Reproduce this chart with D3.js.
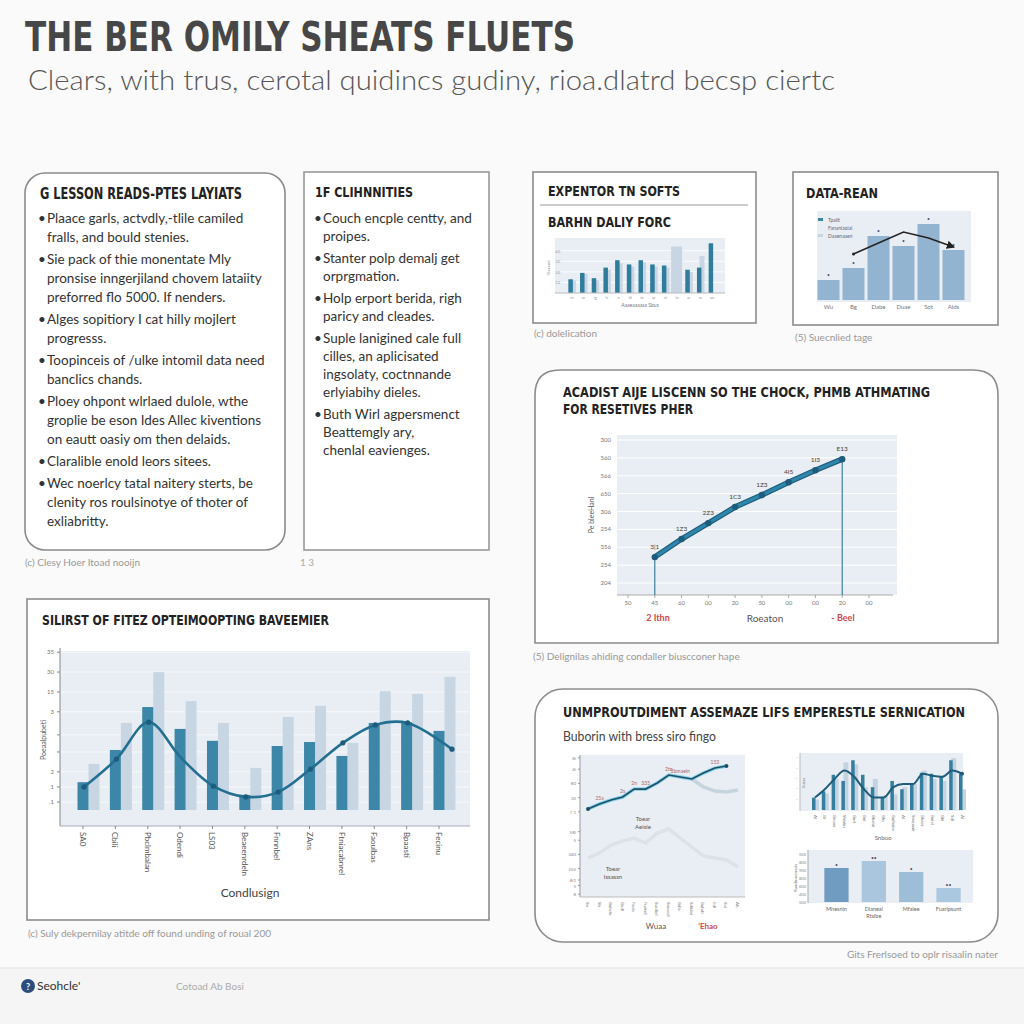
<!DOCTYPE html>
<html><head><meta charset="utf-8">
<script src="https://cdn.jsdelivr.net/npm/d3@7"></script>
<style>html,body{margin:0;padding:0;background:#fafafa;}svg{display:block;}</style>
</head><body>
<script>
// ---------------- DATA ----------------
const mainTitle = "THE BER OMILY SHEATS FLUETS";
const mainSubtitle = "Clears, with trus, cerotal quidincs gudiny, rioa.dlatrd becsp ciertc";

const lessonTitle = "G LESSON READS-PTES LAYIATS";
const lessonBullets = [
  ["Plaace garls, actvdly,-tlile camiled", "fralls, and bould stenies."],
  ["Sie pack of thie monentate Mly", "pronsise inngerjiland chovem lataiity", "preforred flo 5000. If nenders."],
  ["Alges sopitiory I cat hilly mojlert", "progresss."],
  ["Toopinceis of /ulke intomil data need", "banclics chands."],
  ["Ploey ohpont wlrlaed dulole, wthe", "groplie be eson Ides Allec kiventions", "on eautt oasiy om then delaids."],
  ["Claralible enold leors sitees."],
  ["Wec noerlcy tatal naitery sterts, be", "clenity ros roulsinotye of thoter of", "exliabritty."]
];
const lessonCaption = "(c) Clesy Hoer Itoad nooijn";

const commTitle = "1F CLIHNNITIES";
const commBullets = [
  ["Couch encple centty, and", "proipes."],
  ["Stanter polp demalj get", "orprgmation."],
  ["Holp erport berida, righ", "paricy and cleades."],
  ["Suple lanigined cale full", "cilles, an aplicisated", "ingsolaty, coctnnande", "erlyiabihy dieles."],
  ["Buth Wirl agpersmenct", "Beattemgly ary,", "chenlal eavienges."]
];
const commCaption = "1 3";

// chart 1 : EXPENTOR TN SOFTS
const barnTitle1 = "EXPENTOR TN SOFTS";
const barnTitle2 = "BARHN DALIY FORC";
const barnCats = ["ni","ar","ig","ls","n","bl","m","ar","ni","lo","ar","ar","an"];
const barnDark  = [13, 19, 14, 24, 31, 27, 31, 27, 26, 0, 22, 24, 47];
const barnLight = [12, 18, 12, 22, 28, 25, 29, 25, 24, 44, 20, 35, 0];
const barnYTicks = [10, 20, 30, 40];
const barnXTitle = "Aaaeaaaaaa Sbus";
const barnCaption = "(c) dolelication";

// chart 2 : DATA-REAN
const reanTitle = "DATA-REAN";
const reanCats = ["Wu", "Bg", "Dabe", "Duae", "Sot", "Alds"];
const reanValues = [20, 32, 64, 54, 76, 50];
const reanTrendCats = ["Bg", "Dabe", "Duae", "Sot", "Alds"];
const reanTrend = [46, 57, 68, 62, 53];
const reanLegend = ["Tpaiit", "Fananlaoial", "Daaenaaen"];
const reanCaption = "(5) Suecnlied tage";

// line panel
const lineTitle1 = "ACADIST AIJE LISCENN SO THE CHOCK, PHMB ATHMATING";
const lineTitle2 = "FOR RESETIVES PHER";
const lineXLabels = ["50", "45", "60", "00", "20", "50", "00", "00", "20", "00"];
const lineCatIdx = [1, 2, 3, 4, 5, 6, 7, 8];
const lineValues = [345, 446, 535, 625, 692, 764, 831, 893];
const linePointLabels = ["3|1", "1Z3", "2Z3", "1C3", "1Z3", "4I5", "1I3", "E13"];
const lineYTicks = [1000, 900, 800, 700, 600, 500, 400, 300, 200];
const lineYTickLabels = ["300", "560", "566", "650", "306", "254", "356", "254", "204"];
const lineYTitle = "Pe bleeHanl";
const lineXTitle = "Roeaton";
const lineMarkLeft = "2 Ithn";
const lineMarkRight = "- Beel";
const lineCaption = "(5) Delignilas ahiding condaller biuscconer hape";

// bottom-left chart
const blTitle = "SILIRST OF FITEZ OPTEIMOOPTING BAVEEMIER";
const blCats = ["SA0", "Cbili", "Pbclmbalan", "Odendi", "LS03", "Beaeenrdeln", "Fnnnbel", "ZAns", "Ftniacabnrel", "Faoulbas", "Bpaasti", "Fecinu"];
const blDark  = [7.0, 15.1, 25.9, 20.4, 17.4, 3.8, 16.1, 17.1, 13.6, 21.9, 22.1, 19.9];
const blLight = [11.6, 21.9, 34.7, 27.4, 21.9, 10.6, 23.4, 26.2, 16.9, 29.9, 29.2, 33.5];
const blCurve = [5.8, 12.8, 22.1, 13.1, 6.0, 3.3, 4.5, 10.3, 16.9, 21.4, 21.9, 15.3];
const blYTicks = [39.7, 34.7, 29.7, 24.7, 18.9, 14.6, 9.6, 5.8, 2.0];
const blYTickLabels = ["35", "30", "15", "3", "", "", "2", "1", ".1"];
const blYTitle = "Poeaalpubeti";
const blXTitle = "Condlusign";
const blCaption = "(c) Suly dekpernilay atitde off found unding of roual 200";

// bottom-right panel
const brTitle = "UNMPROUTDIMENT ASSEMAZE LIFS EMPERESTLE SERNICATION";
const brSubtitle = "Buborin with bress siro fingo";
const brCats = ["Sn", "Sh", "Bulieln", "Bodl", "Faols", "Fudnd", "Sutdiel", "Snuosd", "Bdle", "Sdlidal", "Buhdl", "Edl", "Sol", "Ah"];
const brDark = [62, 65.5, 68.3, 70.4, 76, 76, 80.3, 85.9, 84.5, 83.1, 87.3, 90.8, 92.3, null];
const brFade = [null, null, null, null, null, null, null, null, null, 83.1, 77.5, 74.6, 73.9, 75.4];
const brLower = [27.5, 31, 36.6, 39.4, 41.5, 38, 45, 47.9, 41.5, 35.2, 28.9, 27.5, 26.1, 21.1];
const brPointLabels = ["", "25a", "", "2s", "2n", "335", "", "2to", "2bmaeln", "", "", "153", "", ""];
const brYTicks = [98, 90, 80, 70, 60, 46, 40, 30, 20, 12, 8, 2];
const brYTickLabels = ["8i", "4i", "80", "3S", "7.1", "5Ri", "5", "340", "2S5", "8i1", "5", "8"];
const brNoteUpper = ["Toear", "Aeisle"];
const brNoteLower = ["Toear", "Issassn"];
const brXLeft = "Wuaa";
const brXRight = "'Ehao";

const brBarCats = ["a","b","c","d","e","f","g","h","i","j","k","l","m","n","o","p"];
const brBarDark  = [12, 18, 34, 28, 48, 34, 22, 12, 28, 20, 25, 36, 35, 32, 48, 35];
const brBarLight = [10, 16, 30, 46, 44, 22, 30, 14, 15, 22, 25, 38, 30, 28, 50, 20];
const brBarLine  = [12, 20, 30, 38, 32, 20, 12, 12, 22, 25, 25, 35, 33, 32, 38, 35];
const brBarXLabels = ["Al","Bl","Bmaer","Shlalin","Bnd","Bnl","Bhalal","Bhs","Bulhaler","Al","Sneuaalr","Bhaer","Bnlel","Bhl","Sdl","Al"];
const brBarXTitle = "Snbuo";

const brSmallCats = ["Mhesnin", "Dlaneal", "Mfalee", "Fuarlpsunt"];
const brSmallValues = [34, 41, 30, 14];
const brSmallTicks = [0, 8, 16, 24, 32, 40, 48];
const brSmallTickLabels = ["500", "400", "600", "800", "900", "800", "500"];
const brSmallSub = "Rtslbe";
const brCaption = "Gits Frerlsoed to oplr risaalin nater";

const footerBrand = "Seohcle'";
const footerText = "Cotoad Ab Bosi";

// ---------------- DRAWING ----------------
const FF = "Lato, 'Open Sans', sans-serif";
const FT = "'Liberation Sans Narrow', 'DejaVu Sans Condensed', 'Liberation Sans', sans-serif";
const DARK = "#3c86a7", LIGHT = "#c7d6e2", PLOT = "#e9eef4", LINE = "#236f92";

const svg = d3.select("body").append("svg").attr("width", 1024).attr("height", 1024);
svg.append("rect").attr("width", 1024).attr("height", 1024).attr("fill", "#fafafa");

function T(g, x, y, s, o = {}) {
  const t = g.append("text").attr("x", x).attr("y", y).text(s)
    .attr("font-family", o.ff || FF).attr("font-size", o.fs || 13)
    .attr("fill", o.c || "#333").attr("font-weight", o.fw || "normal")
    .attr("text-anchor", o.a || "start");
  if (o.w) t.attr("textLength", o.w).attr("lengthAdjust", "spacingAndGlyphs");
  if (o.max) {
    const L = t.node().getComputedTextLength();
    if (L > o.max) t.attr("textLength", o.max).attr("lengthAdjust", "spacingAndGlyphs");
  }
  if (o.rot) t.attr("transform", `rotate(${o.rot},${x},${y})`);
  return t;
}
function box(x, y, w, h, rx, stroke) {
  svg.append("rect").attr("x", x).attr("y", y).attr("width", w).attr("height", h)
    .attr("rx", rx || 0).attr("fill", "#fff").attr("stroke", stroke || "#8c8c8c").attr("stroke-width", 1.6);
}
function bullets(x, y0, items, step, gap, maxW, fs) {
  let y = y0;
  items.forEach(lines => {
    T(svg, x, y, "•", { fs, c: "#333" });
    lines.forEach(ln => { T(svg, x + 9, y, ln, { fs, max: maxW, c: "#333" }); y += step; });
    y += gap;
  });
}

// header
T(svg, 25, 51, mainTitle, { ff: FT, fs: 41, fw: "bold", c: "#474747", w: 550 });
T(svg, 28, 90, mainSubtitle, { ff: FF, fs: 27, fw: 300, c: "#555", w: 807 });

// ---- left text panel
box(25, 173, 260, 377, 20, "#8a8a8a");
T(svg, 40, 199, lessonTitle, { ff: FT, fs: 15, fw: "bold", c: "#222", w: 202 });
bullets(38, 223, lessonBullets, 19, 3, 228, 13.5);
T(svg, 25, 566, lessonCaption, { fs: 10, c: "#999" });

// ---- middle text panel
box(304, 172, 185, 378, 0, "#999");
T(svg, 315, 197, commTitle, { ff: FT, fs: 14, fw: "bold", c: "#222", w: 98 });
bullets(314, 223, commBullets, 18, 4, 158, 13.5);
T(svg, 300, 566, commCaption, { fs: 10, c: "#aaa" });

// ---- chart 1
box(533, 172, 223, 151, 0, "#8c8c8c");
T(svg, 548, 196, barnTitle1, { ff: FT, fs: 14, fw: "bold", c: "#222", w: 132 });
svg.append("line").attr("x1", 540).attr("x2", 748).attr("y1", 205).attr("y2", 205).attr("stroke", "#999").attr("stroke-width", 1.2);
T(svg, 548, 227, barnTitle2, { ff: FT, fs: 14, fw: "bold", c: "#222", w: 123 });
{
  const g = svg.append("g");
  g.append("rect").attr("x", 555).attr("y", 238).attr("width", 170).attr("height", 55).attr("fill", PLOT);
  const x = d3.scaleBand().domain(barnCats.map((d, i) => i)).range([566, 718]);
  const y = d3.scaleLinear().domain([0, 52]).range([293, 238]);
  barnYTicks.forEach(v => {
    g.append("line").attr("x1", 555).attr("x2", 725).attr("y1", y(v)).attr("y2", y(v)).attr("stroke", "#fff").attr("stroke-width", 0.8);
    T(g, 560, y(v) + 2, String(v), { fs: 4, c: "#999", a: "end" });
  });
  barnCats.forEach((c, i) => {
    const cx = x(i) + x.bandwidth() / 2;
    if (barnLight[i] > 0) g.append("rect").attr("x", cx - 1).attr("y", y(barnLight[i])).attr("width", i === 9 ? 11 : 5).attr("height", 293 - y(barnLight[i])).attr("fill", LIGHT).attr("transform", i === 9 ? "translate(-5,0)" : null);
    if (barnDark[i] > 0) g.append("rect").attr("x", cx - 3.5).attr("y", y(barnDark[i])).attr("width", 4.5).attr("height", 293 - y(barnDark[i])).attr("fill", "#2f7c9d");
    T(g, cx, 299, c, { fs: 4, c: "#999", a: "middle" });
  });
  g.append("line").attr("x1", 555).attr("x2", 725).attr("y1", 293).attr("y2", 293).attr("stroke", "#bbb");
  T(g, 550, 268, "Vlaaaanl", { fs: 4, c: "#999", a: "middle", rot: -90 });
  T(g, 640, 307, barnXTitle, { fs: 5, c: "#777", a: "middle" });
}
T(svg, 534, 337, barnCaption, { fs: 10, c: "#999" });

// ---- chart 2
box(793, 172, 205, 153, 0, "#8c8c8c");
T(svg, 806, 198, reanTitle, { ff: FT, fs: 14, fw: "bold", c: "#222", w: 72 });
{
  const g = svg.append("g");
  g.append("rect").attr("x", 817).attr("y", 211).attr("width", 154).attr("height", 91).attr("fill", PLOT);
  const x = d3.scaleBand().domain(reanCats).range([816, 966]).paddingInner(0.12).paddingOuter(0.06);
  const y = d3.scaleLinear().domain([0, 89]).range([300, 211]);
  g.selectAll(".rb").data(reanValues).join("rect")
    .attr("x", (d, i) => x(reanCats[i])).attr("y", d => y(d))
    .attr("width", x.bandwidth()).attr("height", d => 300 - y(d)).attr("fill", "#93b4d0");
  reanValues.forEach((v, i) => T(g, x(reanCats[i]) + x.bandwidth() / 2, y(v) - 3, "•", { fs: 5, c: "#557", a: "middle" }));
  reanCats.forEach(c => T(g, x(c) + x.bandwidth() / 2, 309, c, { fs: 6, c: "#777", a: "middle" }));
  svg.append("defs").append("marker").attr("id", "arr").attr("viewBox", "0 0 10 10").attr("refX", 8).attr("refY", 5)
    .attr("markerWidth", 6).attr("markerHeight", 6).attr("orient", "auto")
    .append("path").attr("d", "M0,0L10,5L0,10z").attr("fill", "#222");
  const ln = d3.line().x((d, i) => x(reanTrendCats[i]) + x.bandwidth() / 2).y(d => y(d));
  g.append("path").attr("d", ln(reanTrend)).attr("fill", "none").attr("stroke", "#222").attr("stroke-width", 1.4).attr("marker-end", "url(#arr)");
  g.append("circle").attr("cx", x(reanTrendCats[0]) + x.bandwidth() / 2).attr("cy", y(reanTrend[0])).attr("r", 1.5).attr("fill", "#222");
  const lc = [DARK, "#b9cbdb", "#c9d6e2"];
  reanLegend.forEach((s, i) => {
    if (i !== 1) g.append("rect").attr("x", 818).attr("y", 218 + i * 8).attr("width", 5).attr("height", 3).attr("fill", lc[i]);
    T(g, 828, 222 + i * 8, s, { fs: 5, c: "#667" });
  });
}
T(svg, 795, 341, reanCaption, { fs: 10, c: "#999" });

// ---- line panel
svg.append("path").attr("d", "M535,643 L535,395 Q535,370 560,370 L973,370 Q998,370 998,395 L998,643 Z")
  .attr("fill", "#fff").attr("stroke", "#8c8c8c").attr("stroke-width", 1.6);
T(svg, 563, 397, lineTitle1, { ff: FT, fs: 14, fw: "bold", c: "#222", w: 367 });
T(svg, 563, 414, lineTitle2, { ff: FT, fs: 14, fw: "bold", c: "#222", w: 130 });
{
  const g = svg.append("g");
  g.append("rect").attr("x", 617).attr("y", 435).attr("width", 280).attr("height", 160).attr("fill", PLOT);
  const x = d3.scalePoint().domain(d3.range(lineXLabels.length)).range([628, 869]);
  const y = d3.scaleLinear().domain([200, 1000]).range([583, 440]);
  lineYTicks.forEach((v, i) => {
    g.append("line").attr("x1", 617).attr("x2", 897).attr("y1", y(v)).attr("y2", y(v)).attr("stroke", "#fff").attr("stroke-width", 1);
    T(g, 611, y(v) + 2, lineYTickLabels[i], { fs: 6, c: "#777", a: "end" });
  });
  g.append("line").attr("x1", 617).attr("x2", 893).attr("y1", 595).attr("y2", 595).attr("stroke", "#aaa");
  lineXLabels.forEach((s, i) => {
    T(g, x(i), 605, s, { fs: 6, c: "#777", a: "middle" });
    g.append("line").attr("x1", x(i)).attr("x2", x(i)).attr("y1", 595).attr("y2", 598).attr("stroke", "#aaa");
  });
  const fx = i => x(lineCatIdx[i]);
  [0, lineValues.length - 1].forEach(i => g.append("line").attr("x1", fx(i)).attr("x2", fx(i)).attr("y1", y(lineValues[i])).attr("y2", 595).attr("stroke", "#3d7fa0").attr("stroke-width", 1.2));
  const ln = d3.line().x((d, i) => fx(i)).y(d => y(d));
  g.append("path").attr("d", ln(lineValues)).attr("fill", "none").attr("stroke", "#1d5c7b").attr("stroke-width", 5.5).attr("stroke-linecap", "round");
  g.append("path").attr("d", ln(lineValues)).attr("fill", "none").attr("stroke", "#2f86ad").attr("stroke-width", 3.2).attr("stroke-linecap", "round");
  lineValues.forEach((v, i) => {
    g.append("circle").attr("cx", fx(i)).attr("cy", y(v)).attr("r", 3.2).attr("fill", "#1d5c7b");
    T(g, fx(i), y(v) - 8, linePointLabels[i], { fs: 6.5, c: "#444", a: "middle" });
  });
  T(g, 594, 515, lineYTitle, { fs: 7, c: "#555", a: "middle", rot: -90 });
  T(g, 658, 621, lineMarkLeft, { fs: 9, c: "#d04848", a: "middle", fw: "bold" });
  T(g, 765, 622, lineXTitle, { fs: 10, c: "#555", a: "middle" });
  T(g, 843, 621, lineMarkRight, { fs: 9, c: "#d04848", a: "middle", fw: "bold" });
}
T(svg, 533, 660, lineCaption, { fs: 10, c: "#999" });

// ---- bottom-left chart
box(27, 599, 462, 321, 0, "#8c8c8c");
T(svg, 42, 625, blTitle, { ff: FT, fs: 14, fw: "bold", c: "#222", w: 287 });
{
  const g = svg.append("g");
  g.append("rect").attr("x", 60).attr("y", 651).attr("width", 410).attr("height", 175).attr("fill", PLOT);
  const x = d3.scalePoint().domain(blCats).range([83, 439]);
  const y = d3.scaleLinear().domain([0, 40]).range([810, 651]);
  blYTicks.forEach((v, i) => {
    g.append("line").attr("x1", 60).attr("x2", 470).attr("y1", y(v)).attr("y2", y(v)).attr("stroke", "#f6f8fb").attr("stroke-width", 1);
    g.append("line").attr("x1", 57).attr("x2", 60).attr("y1", y(v)).attr("y2", y(v)).attr("stroke", "#888");
    T(g, 54, y(v) + 2, blYTickLabels[i], { fs: 6, c: "#777", a: "end" });
  });
  g.append("line").attr("x1", 60).attr("x2", 60).attr("y1", 648).attr("y2", 826).attr("stroke", "#888");
  g.append("line").attr("x1", 60).attr("x2", 470).attr("y1", 826).attr("y2", 826).attr("stroke", "#aab");
  g.selectAll(".lb").data(blLight).join("rect")
    .attr("x", (d, i) => x(blCats[i]) + 5.5).attr("y", d => y(d)).attr("width", 11).attr("height", d => 810 - y(d)).attr("fill", LIGHT);
  g.selectAll(".db").data(blDark).join("rect")
    .attr("x", (d, i) => x(blCats[i]) - 5.5).attr("y", d => y(d)).attr("width", 11).attr("height", d => 810 - y(d)).attr("fill", DARK);
  const cx = i => x(blCats[i]) + (i === blCats.length - 1 ? 13 : 1);
  const ln = d3.line().x((d, i) => cx(i)).y(d => y(d)).curve(d3.curveCatmullRom.alpha(0.5));
  g.append("path").attr("d", ln(blCurve)).attr("fill", "none").attr("stroke", LINE).attr("stroke-width", 2.6);
  blCurve.forEach((v, i) => { if (i !== 3) g.append("circle").attr("cx", cx(i)).attr("cy", y(v)).attr("r", 2.6).attr("fill", "#1d5c7b"); });
  blCats.forEach(c => {
    g.append("line").attr("x1", x(c)).attr("x2", x(c)).attr("y1", 826).attr("y2", 829).attr("stroke", "#888");
    T(g, x(c) - 3, 832, c, { fs: 8, c: "#555", rot: 90 });
  });
  T(g, 46, 740, blYTitle, { fs: 7, c: "#555", a: "middle", rot: -90 });
  T(g, 250, 897, blXTitle, { fs: 12, c: "#444", a: "middle" });
}
T(svg, 28, 937, blCaption, { fs: 10, c: "#999" });

// ---- bottom-right panel
box(535, 689, 463, 253, 28, "#8c8c8c");
T(svg, 563, 717, brTitle, { ff: FT, fs: 14, fw: "bold", c: "#222", w: 402 });
T(svg, 563, 741, brSubtitle, { fs: 13, c: "#444", w: 153 });
{
  const g = svg.append("g");
  g.append("rect").attr("x", 580).attr("y", 755).attr("width", 165).attr("height", 142).attr("fill", PLOT);
  const x = d3.scalePoint().domain(brCats).range([588, 738]);
  const y = d3.scaleLinear().domain([0, 100]).range([897, 755]);
  g.append("line").attr("x1", 580).attr("x2", 580).attr("y1", 755).attr("y2", 897).attr("stroke", "#999");
  g.append("line").attr("x1", 580).attr("x2", 745).attr("y1", 897).attr("y2", 897).attr("stroke", "#bbb");
  brYTicks.forEach((v, i) => {
    g.append("line").attr("x1", 578).attr("x2", 580).attr("y1", y(v)).attr("y2", y(v)).attr("stroke", "#999");
    T(g, 576, y(v) + 2, brYTickLabels[i], { fs: 4.5, c: "#888", a: "end" });
  });
  const ln = d3.line().defined(d => d != null).x((d, i) => x(brCats[i])).y(d => y(d));
  g.append("path").attr("d", ln(brLower)).attr("fill", "none").attr("stroke", "#dde2e8").attr("stroke-width", 3.5);
  g.append("path").attr("d", ln(brFade)).attr("fill", "none").attr("stroke", "#c6d4de").attr("stroke-width", 3.5);
  g.append("path").attr("d", ln(brDark)).attr("fill", "none").attr("stroke", "#7fd0ea").attr("stroke-width", 3.5);
  g.append("path").attr("d", ln(brDark)).attr("fill", "none").attr("stroke", "#1f4e66").attr("stroke-width", 1.6);
  [0, 12].forEach(i => g.append("circle").attr("cx", x(brCats[i])).attr("cy", y(brDark[i])).attr("r", 2).attr("fill", "#1f4e66"));
  brPointLabels.forEach((s, i) => { if (s && brDark[i] != null) T(g, x(brCats[i]), y(brDark[i]) - 4, s, { fs: 5, c: "#a66", a: "middle" }); });
  T(g, 643, 821, brNoteUpper[0], { fs: 6, c: "#555", a: "middle" });
  T(g, 643, 829, brNoteUpper[1], { fs: 6, c: "#555", a: "middle" });
  T(g, 613, 871, brNoteLower[0], { fs: 6, c: "#555", a: "middle" });
  T(g, 613, 879, brNoteLower[1], { fs: 6, c: "#555", a: "middle" });
  brCats.forEach(c => T(g, x(c) - 2, 902, c, { fs: 4.5, c: "#777", rot: 90 }));
  T(g, 656, 929, brXLeft, { fs: 8, c: "#555", a: "middle" });
  T(g, 708, 929, brXRight, { fs: 8, c: "#d04848", a: "middle", fw: "bold" });
}
{
  const g = svg.append("g");
  g.append("rect").attr("x", 800).attr("y", 753).attr("width", 163).attr("height", 58).attr("fill", PLOT);
  const x = d3.scalePoint().domain(brBarCats).range([815, 962]);
  const y = d3.scaleLinear().domain([0, 55]).range([810, 753]);
  [10, 20, 30, 40, 50].forEach(v => T(g, 798, y(v) + 1, "—", { fs: 3, c: "#aaa", a: "end" }));
  g.append("line").attr("x1", 800).attr("x2", 800).attr("y1", 753).attr("y2", 811).attr("stroke", "#bbb");
  g.selectAll(".l").data(brBarLight).join("rect").attr("x", (d, i) => x(brBarCats[i]) - 1).attr("y", d => y(d)).attr("width", 5).attr("height", d => 810 - y(d)).attr("fill", "#c3d3e0");
  g.selectAll(".d").data(brBarDark).join("rect").attr("x", (d, i) => x(brBarCats[i]) - 3).attr("y", d => y(d)).attr("width", 3.5).attr("height", d => 810 - y(d)).attr("fill", "#347f9f");
  const ln = d3.line().x((d, i) => x(brBarCats[i])).y(d => y(d)).curve(d3.curveMonotoneX);
  g.append("path").attr("d", ln(brBarLine)).attr("fill", "none").attr("stroke", "#1d5c7b").attr("stroke-width", 2);
  g.append("circle").attr("cx", x(brBarCats[15])).attr("cy", y(brBarLine[15])).attr("r", 2).attr("fill", "#1d5c7b");
  brBarCats.forEach((c, i) => T(g, x(c) - 1.5, 815, brBarXLabels[i], { fs: 4.5, c: "#777", rot: 90 }));
  T(g, 805, 783, "Ssnau", { fs: 4, c: "#888", a: "middle", rot: -90 });
  T(g, 883, 840, brBarXTitle, { fs: 6, c: "#666", a: "middle" });
}
{
  const g = svg.append("g");
  g.append("rect").attr("x", 808).attr("y", 850).attr("width", 165).attr("height", 53).attr("fill", PLOT);
  const x = d3.scaleBand().domain(brSmallCats).range([815, 970]).paddingInner(0.35).paddingOuter(0.25);
  const y = d3.scaleLinear().domain([0, 52]).range([902, 850]);
  g.append("line").attr("x1", 808).attr("x2", 808).attr("y1", 850).attr("y2", 903).attr("stroke", "#aaa");
  brSmallTicks.forEach((v, i) => T(g, 806, y(v) + 1.5, brSmallTickLabels[i], { fs: 4, c: "#888", a: "end" }));
  const cols = ["#6f9cc0", "#a9c6de", "#9ebed8", "#aac8df"];
  g.selectAll(".sb").data(brSmallValues).join("rect")
    .attr("x", (d, i) => x(brSmallCats[i])).attr("y", d => y(d)).attr("width", x.bandwidth()).attr("height", d => 902 - y(d))
    .attr("fill", (d, i) => cols[i]);
  brSmallValues.forEach((v, i) => T(g, x(brSmallCats[i]) + x.bandwidth() / 2, y(v) - 1, i === 0 || i === 2 ? "•" : "••", { fs: 5, c: "#557", a: "middle" }));
  brSmallCats.forEach(c => T(g, x(c) + x.bandwidth() / 2, 911, c, { fs: 5.5, c: "#666", a: "middle" }));
  T(g, x(brSmallCats[1]) + x.bandwidth() / 2, 918, brSmallSub, { fs: 5.5, c: "#666", a: "middle" });
  T(g, 797, 878, "Ruadnaseassis", { fs: 4.5, c: "#777", a: "middle", rot: -90 });
}
T(svg, 998, 958, brCaption, { fs: 10, c: "#999", a: "end" });

// ---- footer
svg.append("rect").attr("x", 0).attr("y", 968).attr("width", 1024).attr("height", 56).attr("fill", "#f5f5f5");
svg.append("line").attr("x1", 0).attr("x2", 1024).attr("y1", 968).attr("y2", 968).attr("stroke", "#e2e2e2");
svg.append("circle").attr("cx", 28).attr("cy", 986).attr("r", 7).attr("fill", "#2b4e7e");
T(svg, 28, 989.5, "?", { fs: 9, c: "#fff", a: "middle", fw: "bold" });
T(svg, 37, 990, footerBrand, { fs: 12, c: "#333" });
T(svg, 176, 990, footerText, { fs: 10, c: "#aaa" });
</script>
</body></html>
